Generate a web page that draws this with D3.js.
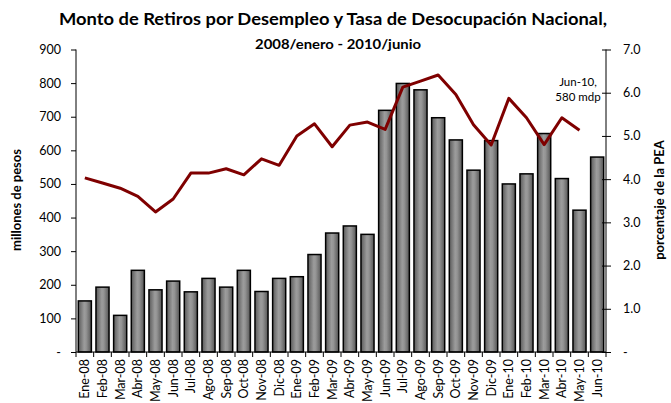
<!DOCTYPE html>
<html><head><meta charset="utf-8">
<script src="https://cdn.jsdelivr.net/npm/d3@7"></script>
<style>
html,body{margin:0;padding:0;background:#fff;}
text{font-family:Lato,"Open Sans",sans-serif;}
</style></head>
<body><svg id="c" width="671" height="403"></svg>
<script>
const months = ["Ene-08","Feb-08","Mar-08","Abr-08","May-08","Jun-08","Jul-08","Ago-08","Sep-08","Oct-08","Nov-08","Dic-08",
"Ene-09","Feb-09","Mar-09","Abr-09","May-09","Jun-09","Jul-09","Ago-09","Sep-09","Oct-09","Nov-09","Dic-09",
"Ene-10","Feb-10","Mar-10","Abr-10","May-10","Jun-10"];
const retiros = [152,193,109,243,185,211,179,219,193,243,180,219,224,290,354,375,350,719,799,780,697,631,541,629,500,530,650,516,422,580];
const desocupacion = [4.03,3.91,3.79,3.60,3.24,3.54,4.14,4.14,4.24,4.10,4.47,4.32,5.00,5.28,4.75,5.25,5.32,5.15,6.13,6.27,6.41,5.96,5.26,4.79,5.87,5.42,4.80,5.42,5.13];
const leftTicks = [0,100,200,300,400,500,600,700,800,900];
const rightTicks = [0,1,2,3,4,5,6,7];

const svg = d3.select("#c");
const L = 76, R = 606, T = 49.5, B = 352;

const x = d3.scaleBand().domain(months).range([L, R]).paddingInner(0.26).paddingOuter(0.13);
const yL = d3.scaleLinear().domain([0, 900]).range([B, T]);
const yR = d3.scaleLinear().domain([0, 7]).range([B, T]);

const defs = svg.append("defs");
const g = defs.append("linearGradient").attr("id","barg").attr("x1","0").attr("x2","1").attr("y1","0").attr("y2","0");
g.append("stop").attr("offset","0").attr("stop-color","#5a5a5a");
g.append("stop").attr("offset","0.45").attr("stop-color","#9c9c9c");
g.append("stop").attr("offset","0.6").attr("stop-color","#949494");
g.append("stop").attr("offset","1").attr("stop-color","#555555");

svg.append("text").attr("x", 333).attr("y", 25).attr("text-anchor","middle")
  .attr("font-size", 17).attr("font-weight","bold").attr("fill","#000")
  .attr("textLength", 548).attr("lengthAdjust","spacingAndGlyphs")
  .text("Monto de Retiros por Desempleo y Tasa de Desocupación Nacional,");
svg.append("text").attr("x", 338).attr("y", 49).attr("text-anchor","middle")
  .attr("font-size", 13.5).attr("font-weight","bold").attr("fill","#000")
  .attr("textLength", 166).attr("lengthAdjust","spacingAndGlyphs")
  .text("2008/enero - 2010/junio");

svg.append("g").selectAll("rect").data(retiros).join("rect")
  .attr("x", (d,i) => x(months[i]))
  .attr("y", d => yL(d))
  .attr("width", x.bandwidth())
  .attr("height", d => B - yL(d))
  .attr("fill", "url(#barg)")
  .attr("stroke", "#000").attr("stroke-width", 1.5);

const line = d3.line().x((d,i) => x(months[i]) + x.bandwidth()/2).y(d => yR(d));
svg.append("path").datum(desocupacion).attr("d", line)
  .attr("fill","none").attr("stroke","#7f0000").attr("stroke-width", 3).attr("stroke-linejoin","round");

const fmtL = d => d === 0 ? "-" : String(d);
const axL = svg.append("g").attr("transform", `translate(${L},0)`)
  .call(d3.axisLeft(yL).tickValues(leftTicks).tickFormat(fmtL).tickSize(5).tickPadding(10));
axL.selectAll("text").attr("font-size", 12.5).attr("fill","#000");
axL.select(".domain").attr("d", `M0,${T}V${B}`);

const fmtR = d => d === 0 ? "-" : d.toFixed(1);
const axR = svg.append("g").attr("transform", `translate(${R},0)`)
  .call(d3.axisRight(yR).tickValues(rightTicks).tickFormat(fmtR).tickSize(6).tickPadding(11));
axR.selectAll(".tick line").attr("x1", -4).attr("x2", 5);
axR.selectAll("text").attr("font-size", 12.5).attr("fill","#000").attr("x", 17);
axR.select(".domain").attr("d", `M0,${T}V${B}`);

const axB = svg.append("g").attr("transform", `translate(0,${B})`)
  .call(d3.axisBottom(x).tickSize(0).tickPadding(0));
axB.select(".domain").attr("d", `M${L},0H${R}`);
axB.selectAll("text").attr("font-size", 12.5).attr("fill","#000")
  .attr("transform","rotate(-90)").attr("text-anchor","end").attr("dy","0.35em").attr("x", -7).attr("y", 0);
const step = x.step();
const bounds = d3.range(months.length + 1).map(i => L + i * step);
svg.append("g").selectAll("line").data(bounds).join("line")
  .attr("x1", d => d).attr("x2", d => d).attr("y1", B).attr("y2", B + 5)
  .attr("stroke","#000");

svg.append("text").attr("transform", "translate(21,200) rotate(-90)").attr("text-anchor","middle")
  .attr("font-size", 13).attr("font-weight","bold").text("millones de pesos");
svg.append("text").attr("transform", "translate(664,200) rotate(-90)").attr("text-anchor","middle")
  .attr("font-size", 13).attr("font-weight","bold").text("porcentaje de la PEA");

svg.append("text").attr("x", 578).attr("y", 86).attr("text-anchor","middle").attr("font-size", 11.5).text("Jun-10,");
svg.append("text").attr("x", 578).attr("y", 101).attr("text-anchor","middle").attr("font-size", 11.5).text("580 mdp");
</script></body></html>
